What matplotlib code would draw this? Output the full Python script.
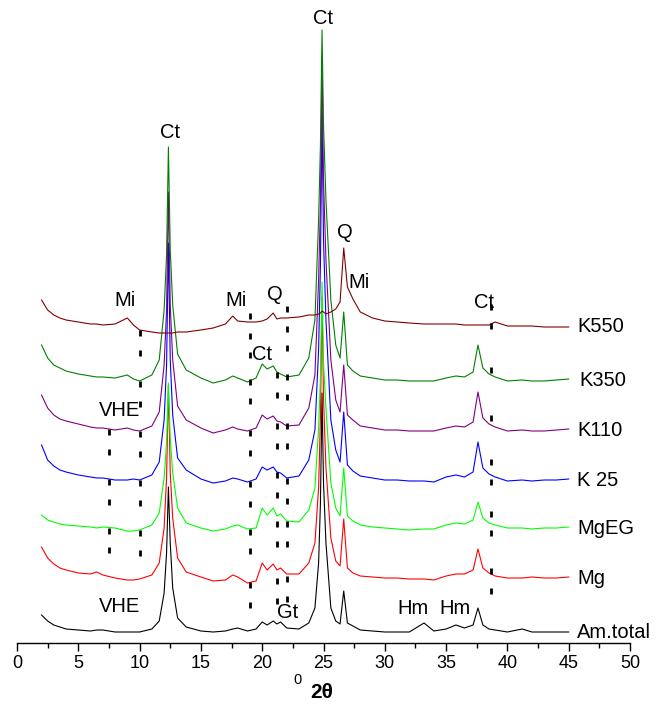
import numpy as np
import matplotlib
matplotlib.use("Agg")
from matplotlib import pyplot as plt

plt.rcParams['font.family'] = ['Liberation Sans', 'DejaVu Sans']

# shared 2-theta grid (degrees)
two_theta = [2, 2.5, 3, 3.5, 4, 5, 6, 6.5, 7, 8, 9, 9.5, 10, 11, 11.6, 12.0,
             12.2, 12.35, 12.5, 12.7, 13.1, 13.8, 15, 16, 17, 17.6, 18, 18.8,
             19.5, 20.0, 20.4, 20.9, 21.2, 21.5, 22, 23, 23.8, 24.3, 24.6,
             24.75, 24.88, 25.0, 25.2, 25.6, 26.0, 26.35, 26.65, 26.95, 27.4,
             28, 29, 30, 31, 32, 33.2, 34, 35, 35.8, 36.5, 37.2, 37.6, 38.0,
             38.5, 39, 40, 41.2, 42, 43, 44, 45]

# intensities above each pattern's own baseline (arbitrary units)
am_total = [18, 12, 8, 6, 4, 3, 2, 3, 3, 1, 1, 1, 1, 4, 12, 40,
            80, 146, 90, 45, 15, 6, 2, 1, 2, 4, 5, 2,
            4, 11, 8, 12, 9, 11, 5, 4, 10, 25, 70,
            130, 240, 150, 90, 25, 12, 9, 42, 10, 7,
            3, 2, 1, 1, 1, 10, 2, 4, 8, 5, 8, 25, 8,
            4, 3, 1, 4, 1, 1, 1, 1]
mg = [31, 20, 14, 10, 8, 5, 4, 6, 3, 0, -2, -2, -1, 3, 15, 50,
      100, 193, 105, 60, 20, 6, 1, -3, -2, 3, 1, -5,
      -3, 15, 8, 14, 8, 10, 4, 4, 15, 35, 90,
      160, 281, 180, 110, 40, 17, 12, 59, 10, 5,
      2, 1, 0, 0, -1, -1, -2, 2, 4, 4, 8, 29, 10,
      5, 2, 0, 0, 1, 0, 0, 1]
mg_eg = [13, 8, 6, 4, 3, 2, 1, 0, 1, 0, -3, -3, -2, 3, 15, 50,
         85, 145, 90, 55, 20, 5, 0, -3, -1, 2, 3, -1,
         0, 20, 13, 20, 12, 14, 7, 6, 18, 40, 100,
         150, 246, 165, 120, 45, 20, 12, 60, 12, 7,
         3, 1, 0, -1, -2, -1, -1, 3, 5, 4, 8, 26, 10,
         5, 3, 0, 0, -1, 0, 0, 1]
k25 = [35, 20, 14, 10, 8, 5, 3, 2, 2, 0, 0, 1, 0, 5, 18, 60,
       115, 237, 120, 65, 22, 10, 1, -3, -1, 2, 1, -2,
       1, 13, 10, 13, 8, 7, 2, 4, 20, 50, 130,
       215, 367, 240, 160, 60, 30, 18, 68, 15, 9,
       4, 2, 0, 0, -1, -1, -2, 3, 5, 3, 8, 38, 12,
       6, 3, -1, 0, -1, 0, 0, 1]
k110 = [35, 22, 15, 11, 9, 6, 3, 2, 2, 0, 2, 0, -1, 4, 18, 65,
        120, 238, 125, 70, 24, 10, 2, -3, 0, 3, 1, -1,
        2, 15, 11, 14, 9, 8, 4, 5, 22, 55, 150,
        225, 373, 250, 170, 70, 30, 18, 65, 15, 10,
        4, 2, 0, 0, -1, -1, -1, 2, 4, 3, 8, 38, 12,
        6, 3, -1, 0, -1, -1, 0, 1]
k350 = [35, 22, 15, 12, 9, 6, 4, 3, 3, 2, 5, 1, -1, 5, 20, 70,
        125, 233, 130, 75, 26, 10, 2, -3, 0, 4, 2, -2,
        2, 16, 11, 14, 8, 6, 3, 5, 22, 60, 160,
        235, 350, 255, 180, 80, 35, 22, 68, 15, 9,
        4, 2, 0, 0, -1, -1, -1, 2, 4, 3, 8, 35, 12,
        6, 3, -1, 0, -1, -1, 0, 1]
k550 = [27, 17, 12, 9, 7, 5, 3, 3, 2, 3, 9, 2, -3, -5, -6, -6,
        -6, -6, -6, -6, -5, -5, -3, -1, 3, 11, 6, 5,
        5, 6, 8, 14, 8, 9, 9, 10, 12, 12, 13,
        14, 16, 15, 13, 15, 18, 25, 79, 40, 28,
        15, 9, 6, 5, 4, 3, 3, 3, 3, 2, 2, 2, 2,
        2, 5, 1, 1, 1, 0, 0, 0]

names = ['Am.total', 'Mg', 'MgEG', 'K 25', 'K110', 'K350', 'K550']
patterns = [am_total, mg, mg_eg, k25, k110, k350, k550]
colors = ['black', '#ff0000', '#00ff00', '#0000ff', '#800080', '#008000', '#800000']
offsets = [10, 65, 115, 163, 213, 263, 316]
label_dx = [0, 0, 0, 0, 0, 0.2, 0]

fig = plt.figure(figsize=(6.56, 7.07), dpi=100)
ax = fig.add_axes([17 / 656, 1 - 643 / 707, 613 / 656, 643 / 707])

x = np.array(two_theta)
curves = {}
for name, pat, col, off, dx in zip(names, patterns, colors, offsets, label_dx):
    y = np.array(pat) + off
    curves[name] = y
    ax.plot(x, y, color=col, lw=0.8)
    ax.text(45.7 + dx, off, name, fontsize=14.5, va='center', ha='left')

# dotted reflection markers: (2theta, pattern, start offset, number of dashes)
marks = [
    (7.5, 'K110', 0, 2), (7.5, 'K 25', 0, 2), (7.5, 'MgEG', 0, 2),
    (10, 'K550', 0, 2), (10, 'K350', 0, 2), (10, 'K110', 0, 2),
    (10, 'K 25', 0, 2), (10, 'MgEG', 0, 2),
    (19, 'K550', 9, 3), (19, 'K350', 2, 2), (19, 'K110', 0, 2),
    (19, 'K 25', 0, 2), (19, 'MgEG', 0, 2), (19, 'Mg', 0, 2),
    (21.2, 'K350', 0, 2), (21.2, 'K110', -2, 2), (21.2, 'K 25', 0, 2),
    (21.2, 'MgEG', -5, 2), (21.2, 'Mg', -8, 2),
    (22, 'K550', 12, 3), (22, 'K350', 3, 2), (22, 'K110', 3, 2),
    (22, 'K 25', 0, 2), (22, 'MgEG', 0, 2), (22, 'Mg', -2, 2),
    (38.7, 'K550', 20, 2), (38.7, 'K350', 8, 1), (38.7, 'K110', 10, 1),
    (38.7, 'K 25', 16, 2), (38.7, 'MgEG', 13, 2), (38.7, 'Mg', 6, 2),
]
for mx, name, start, n in marks:
    top = np.interp(mx, x, curves[name]) + start
    for k in range(n):
        t = top - k * 19.5
        ax.plot([mx, mx], [t, t - 6], color='black', lw=2.0, solid_capstyle='butt')

labels = [
    (12.5, 510, 'Ct'), (24.95, 625, 'Ct'), (26.75, 411, 'Q'), (27.9, 361, 'Mi'),
    (8.8, 343, 'Mi'), (17.85, 343, 'Mi'), (21.05, 348, 'Q'), (20.0, 288, 'Ct'),
    (8.4, 233, 'VHE'), (8.4, 37, 'VHE'), (22.1, 31, 'Gt'), (32.3, 35, 'Hm'),
    (35.7, 35, 'Hm'), (38.1, 341, 'Ct'),
]
for lx, ly, s in labels:
    ax.text(lx, ly, s, fontsize=14.5, ha='center', va='center')

ax.set_xlim(0, 50)
ax.set_ylim(0, 643)
ax.set_xticks(np.arange(0, 51, 5))
ax.set_xticks(np.arange(0, 51, 2.5), minor=True)
ax.tick_params(axis='x', which='major', length=6, width=1, labelsize=13, pad=3)
ax.tick_params(axis='x', which='minor', length=3.5, width=1)
ax.set_yticks([])
for s in ['left', 'right', 'top']:
    ax.spines[s].set_visible(False)
ax.spines['bottom'].set_linewidth(1)
ax.patch.set_visible(False)

fig.text(297 / 656, 1 - 680 / 707, '0', fontsize=10.5, ha='center', va='center')
fig.text(322 / 656, 1 - 692 / 707, '2θ', fontsize=15, fontweight='bold',
         ha='center', va='center')

fig.savefig('out.png', dpi=100)
